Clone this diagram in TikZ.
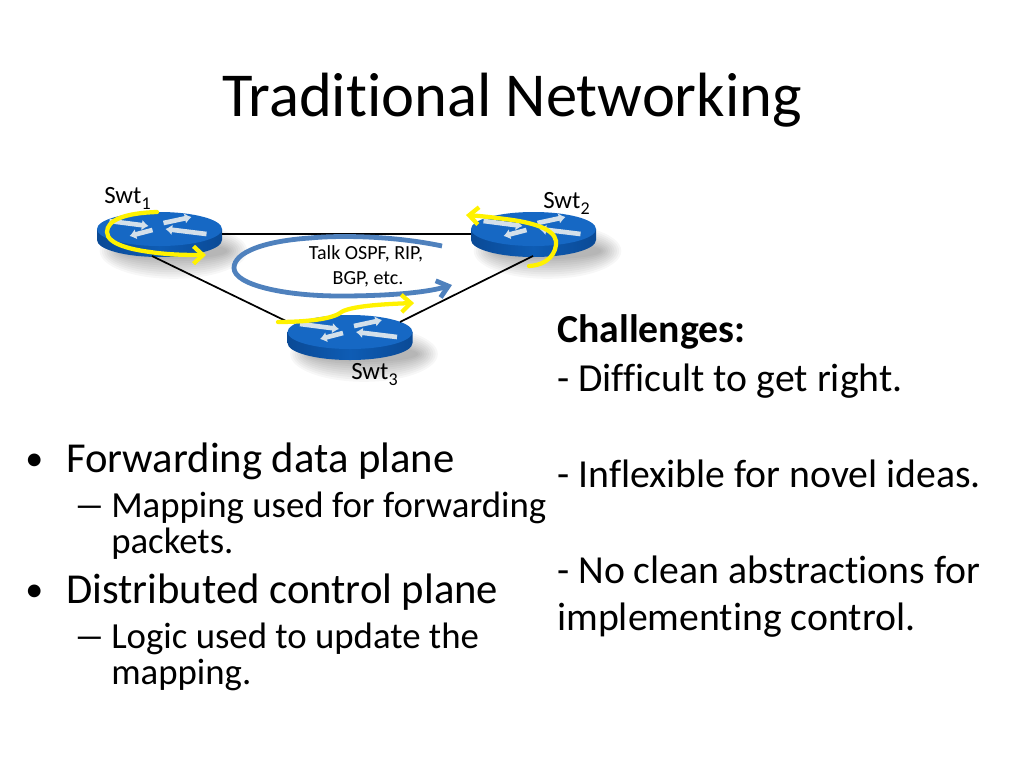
\documentclass[tikz,border=0pt]{standalone}
\usepackage{fontspec}
\usepackage{graphicx}
\setmainfont[RawFeature={-liga;-clig}]{Carlito}
\usetikzlibrary{arrows.meta}
\definecolor{bluepen}{HTML}{4F81BD}
\definecolor{rtop}{HTML}{1668C4}
\definecolor{rside}{HTML}{0E5CB4}
\definecolor{rsidedark}{HTML}{0A4A96}
\definecolor{arrowlight}{HTML}{D4E0EA}
\definecolor{yellowpen}{HTML}{FFF200}
\newcommand{\lowsub}[1]{\raisebox{-0.28em}{\fontsize{13.5}{14}\selectfont #1}}
\tikzset{
  x=0.75pt,y=-0.75pt,
  titletext/.style={anchor=base,inner sep=0pt,font=\fontsize{46.9}{50}\selectfont},
  lvlone/.style={anchor=base west,inner sep=0pt,font=\fontsize{32}{34}\selectfont},
  lvltwo/.style={anchor=base west,inner sep=0pt,font=\fontsize{27.6}{30}\selectfont},
  bulletmark/.style={anchor=base west,inner sep=0pt,font=\fontsize{27}{30}\selectfont},
  dashmark/.style={anchor=base west,inner sep=0pt,font=\fontsize{27.6}{30}\selectfont},
  righttext/.style={anchor=base west,inner sep=0pt,font=\fontsize{29.8}{32}\selectfont},
  swtlabel/.style={anchor=base west,inner sep=0pt,font=\fontsize{18.6}{20}\selectfont},
  talklabel/.style={anchor=base,inner sep=0pt,font=\fontsize{15}{17}\selectfont},
  linkline/.style={draw=black,line width=1.3pt},
  yellowarrow/.style={draw=yellowpen,line width=3.2pt,line cap=round,-{Straight Barb[length=7pt,width=13pt,line width=3.2pt]}},
  bluearrow/.style={draw=bluepen,line width=3.6pt,-{Straight Barb[length=8pt,width=13pt,line width=3.6pt]}},
  lightarrow/.style={draw=arrowlight,line width=3.5pt,-{Latex[length=5pt,width=8pt]}},
  routerpic/.pic={
    % soft shadow
    \foreach \k in {1,...,10}{
      \fill[black,opacity=0.03] (14,22) ellipse ({76-\k*2.2} and {30-\k*2.2});
    }
    % side
    \path[left color=rsidedark,right color=rsidedark,middle color=rside]
      (-62.5,0) -- (-62.5,11) arc[start angle=180,end angle=0,x radius=62.5,y radius=17] -- (62.5,0) -- cycle;
    % top
    \fill[rtop] (0,0) ellipse (62.5 and 17);
    % arrows
    \draw[lightarrow] (-50,-8) -- (-11,-3);
    \draw[lightarrow] (-7,1) -- (-30,7);
    \draw[lightarrow] (47,5) -- (6,0);
    \draw[lightarrow] (4,-6) -- (32,-12);
  }
}
\begin{document}
\begin{tikzpicture}
\useasboundingbox (0,0) rectangle (1024,768);
\fill[white] (0,0) rectangle (1024,768);

\node[titletext] (title) at (512,116) {Traditional Networking};

% routers anchors
\coordinate (r1e) at (222,234);
\coordinate (r1s) at (152,256);
\coordinate (r2w) at (471,234);
\coordinate (r2s) at (533,256);
\coordinate (r3w) at (288,322);
\coordinate (r3e) at (400,322);

\pic at (159.5,229) {routerpic};
\pic at (533.5,229) {routerpic};
\pic at (350,332) {routerpic};

\draw[linkline] (r1e) -- (r2w);
\draw[linkline] (r1s) -- (r3w);
\draw[linkline] (r3e) -- (r2s);

% blue loop
\draw[bluearrow] (442,246) .. controls (395,236) and (340,235) .. (310,238)
  .. controls (265,241) and (234,252) .. (234,268)
  .. controls (234,285) and (285,296) .. (340,296)
  .. controls (385,296) and (425,293) .. (452,285);

% yellow arrows
\draw[yellowarrow] (157,212) .. controls (125,213) and (107,220) .. (107,232)
  .. controls (107,245) and (135,250) .. (150,252)
  .. controls (170,255) and (190,255) .. (206,255);
\draw[yellowarrow] (529,266) .. controls (548,265) and (557,253) .. (556,241)
  .. controls (554,228) and (530,222) .. (505,219)
  .. controls (490,217) and (480,216) .. (466,215);
\draw[yellowarrow] (278,322) .. controls (300,322) and (330,320) .. (340,313)
  .. controls (348,306) and (385,304) .. (414,303);

% labels
\node[swtlabel] (s1) at (104,203) {Swt\lowsub{1}};
\node[swtlabel] (s2) at (543,208) {Swt\lowsub{2}};
\node[swtlabel] (s3) at (351,379) {Swt\lowsub{3}};
\node[talklabel] (t1) at (366,259) {Talk OSPF, RIP,};
\node[talklabel] (t2) at (368,284) {BGP, etc.};

% left list
\node[bulletmark] (b1) at (25,470) {•};
\node[lvlone] (l1) at (66,472) {Forwarding data plane};
\node[dashmark] (d1) at (73,517) {\scalebox{1.75}[1]{–}};
\node[lvltwo] (l2) at (111,517) {Mapping used for forwarding};
\node[lvltwo] (l3) at (111,553) {packets.};
\node[bulletmark] (b2) at (25,601) {•};
\node[lvlone] (l4) at (66,603) {Distributed control plane};
\node[dashmark] (d2) at (73,648) {\scalebox{1.75}[1]{–}};
\node[lvltwo] (l5) at (111,648) {Logic used to update the};
\node[lvltwo] (l6) at (111,684) {mapping.};

% right text
\node[righttext] (c0) at (557,342) {\bfseries Challenges:};
\node[righttext] (c1) at (557,391) {- Difficult to get right.};
\node[righttext] (c2) at (557,487) {- Inflexible for novel ideas.};
\node[righttext] (c3) at (557,583) {- No clean abstractions for};
\node[righttext] (c4) at (557,630) {implementing control.};
\end{tikzpicture}
\end{document}
